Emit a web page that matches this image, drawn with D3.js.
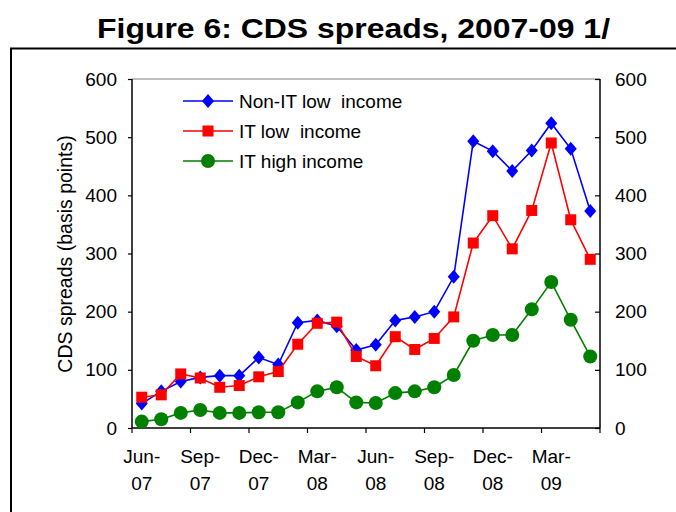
<!DOCTYPE html>
<html>
<head>
<meta charset="utf-8">
<script src="https://cdn.jsdelivr.net/npm/d3@7"></script>
<style>
  html, body { margin: 0; padding: 0; background: #fff; }
  svg { display: block; font-family: "Liberation Sans", Arial, sans-serif; }
</style>
</head>
<body>
<svg id="chart" width="676" height="512"></svg>
<script>
// Monthly CDS spreads, basis points, June 2007 to May 2009
const months = [
  "Jun-07","Jul-07","Aug-07","Sep-07","Oct-07","Nov-07","Dec-07","Jan-08",
  "Feb-08","Mar-08","Apr-08","May-08","Jun-08","Jul-08","Aug-08","Sep-08",
  "Oct-08","Nov-08","Dec-08","Jan-09","Feb-09","Mar-09","Apr-09","May-09"
];
const nonITLow = [42, 63, 80, 87, 90, 90, 121, 109, 181, 185, 175, 134, 143, 185, 191, 200, 260, 493, 476, 442, 477, 524, 480, 373];
const itLow    = [53, 57, 93, 86, 70, 73, 88, 97, 144, 180, 182, 123, 107, 157, 135, 154, 191, 318, 365, 308, 374, 490, 358, 290];
const itHigh   = [11, 15, 26, 31, 26, 26, 27, 27, 44, 63, 70, 44, 43, 60, 63, 70, 91, 150, 160, 160, 204, 251, 186, 123];

const seriesNames = ["Non-IT low  income", "IT low  income", "IT high income"];
const yTicks = [0, 100, 200, 300, 400, 500, 600];
const xTickMonths = ["Jun-07","Sep-07","Dec-07","Mar-08","Jun-08","Sep-08","Dec-08","Mar-09"];

const svg = d3.select("#chart");
const plot = { left: 132, right: 600, top: 79, bottom: 428 };

const x = d3.scaleBand().domain(months).range([plot.left, plot.right]).padding(0);
const y = d3.scaleLinear().domain([0, 600]).range([plot.bottom, plot.top]);
const cx = m => x(m) + x.bandwidth() / 2;

// Outer frame
svg.append("rect")
  .attr("x", 11).attr("y", 48.5).attr("width", 700).attr("height", 500)
  .attr("fill", "none").attr("stroke", "#000").attr("stroke-width", 2);

// Title
svg.append("text")
  .attr("x", 97).attr("y", 38)
  .attr("font-size", 28).attr("font-weight", "bold")
  .attr("textLength", 513).attr("lengthAdjust", "spacingAndGlyphs")
  .text("Figure 6: CDS spreads, 2007-09 1/");

// Plot frame: grey top edge, black axes
svg.append("line")
  .attr("x1", plot.left).attr("x2", plot.right).attr("y1", plot.top).attr("y2", plot.top)
  .attr("stroke", "#808080").attr("stroke-width", 1.2);

// Left axis
const leftAxis = d3.axisLeft(y).tickValues(yTicks).tickSize(4).tickPadding(11).tickFormat(d3.format("d"));
const gl = svg.append("g").attr("transform", `translate(${plot.left},0)`).call(leftAxis);
// Right axis (ticks point inward)
const rightAxis = d3.axisRight(y).tickValues(yTicks).tickSize(-5).tickPadding(15).tickFormat(d3.format("d"));
const gr = svg.append("g").attr("transform", `translate(${plot.right},0)`).call(rightAxis);
[gl, gr].forEach(g => {
  g.select(".domain").attr("stroke", "#000").attr("stroke-width", 1.5);
  g.selectAll(".tick line").attr("stroke", "#000").attr("stroke-width", 1.2);
  g.selectAll(".tick text").attr("font-size", 19).attr("fill", "#000")
    .attr("font-family", "Liberation Sans, Arial, sans-serif");
});
gl.selectAll(".domain").attr("d", `M0,${plot.top}V${plot.bottom}`);
gr.selectAll(".domain").attr("d", `M0,${plot.top}V${plot.bottom}`);

// Bottom axis: tick marks at every third month boundary, labels centred on that month
const gx = svg.append("g").attr("transform", `translate(0,${plot.bottom})`);
gx.append("line").attr("x1", plot.left).attr("x2", plot.right)
  .attr("stroke", "#000").attr("stroke-width", 1.5);
const tickPos = xTickMonths.map(m => x(m)).concat([plot.right]);
gx.selectAll("line.tk").data(tickPos).enter().append("line")
  .attr("class", "tk")
  .attr("x1", d => d).attr("x2", d => d).attr("y1", 0).attr("y2", 5)
  .attr("stroke", "#000").attr("stroke-width", 1.2);
const xl = gx.selectAll("text.xl").data(xTickMonths).enter().append("text")
  .attr("class", "xl")
  .attr("text-anchor", "middle").attr("font-size", 19)
  .attr("transform", d => `translate(${cx(d)},0)`);
xl.append("tspan").attr("x", 0).attr("y", 35).text(d => d.split("-")[0] + "-");
xl.append("tspan").attr("x", 0).attr("y", 62).text(d => d.split("-")[1]);

// Y axis title
svg.append("text")
  .attr("transform", `translate(72,254) rotate(-90)`)
  .attr("text-anchor", "middle").attr("font-size", 19.5)
  .text("CDS spreads (basis points)");

// Series
const series = [
  { name: seriesNames[0], values: nonITLow, color: "#0000FF", shape: "diamond" },
  { name: seriesNames[1], values: itLow,    color: "#FF0000", shape: "square" },
  { name: seriesNames[2], values: itHigh,   color: "#008000", shape: "circle" }
];

function drawMarker(g, shape, color) {
  if (shape === "diamond") {
    g.append("path").attr("d", "M0,-7L6,0L0,7L-6,0Z").attr("fill", color);
  } else if (shape === "square") {
    g.append("rect").attr("x", -5.5).attr("y", -5.5).attr("width", 11).attr("height", 11).attr("fill", color);
  } else {
    g.append("circle").attr("r", 7).attr("fill", color);
  }
}

const line = d3.line().x((d, i) => cx(months[i])).y(d => y(d));

series.forEach(s => {
  const g = svg.append("g");
  g.append("path").datum(s.values).attr("d", line)
    .attr("fill", "none").attr("stroke", s.color).attr("stroke-width", 1.6);
  s.values.forEach((v, i) => {
    const mg = g.append("g").attr("transform", `translate(${cx(months[i])},${y(v)})`);
    drawMarker(mg, s.shape, s.color);
  });
});

// Legend
const legend = svg.append("g");
series.forEach((s, i) => {
  const ly = 101 + i * 30;
  const row = legend.append("g").attr("transform", `translate(0,${ly})`);
  row.append("line").attr("x1", 183).attr("x2", 233).attr("y1", 0).attr("y2", 0)
    .attr("stroke", s.color).attr("stroke-width", 1.6);
  const mg = row.append("g").attr("transform", "translate(208,0)");
  drawMarker(mg, s.shape, s.color);
  row.append("text").attr("x", 239).attr("y", 0).attr("dy", "0.35em")
    .attr("font-size", 19).attr("xml:space", "preserve").style("white-space", "pre")
    .text(s.name);
});
</script>
</body>
</html>
